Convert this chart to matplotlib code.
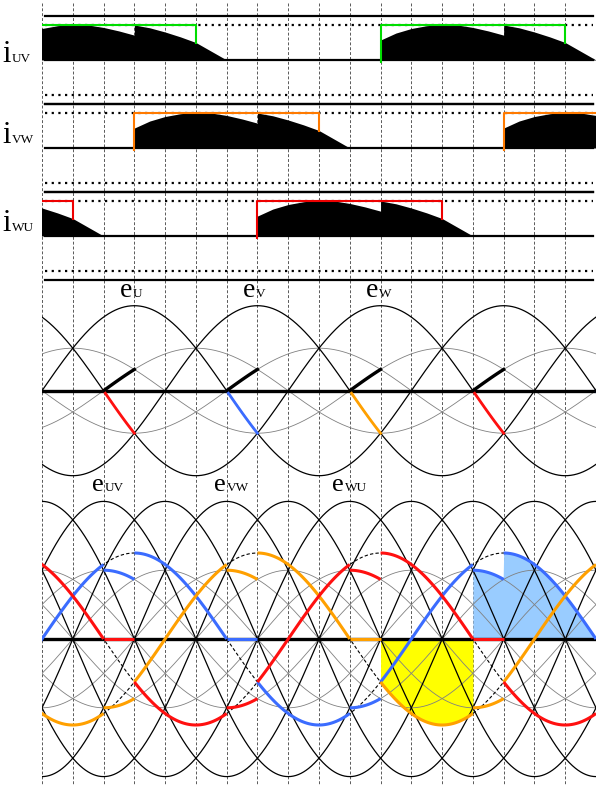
import numpy as np
import matplotlib.pyplot as plt

# ---------------- data ----------------
grid_angles = np.arange(0, 541, 30)      # dashed vertical grid (electrical degrees)
theta = np.linspace(0, 540, 1081)

phase_names = ['U', 'V', 'W']
phase_shift = [0, 120, 240]              # e_X = sin(theta - shift)
phase_colors = ['#3b6cff', '#ffa000', '#ff1010']

line_names = ['UV', 'VW', 'WU']
line_shift = [-30, 90, 210]              # e_UV = sin(theta + 30) ...

# load currents: start angle of each conduction block
current_names = ['UV', 'VW', 'WU']
current_starts = [[-30, 330], [90, 450], [-150, 210]]
current_colors = ['#00dd00', '#ff7a00', '#ee0000']
block_width = 180
# envelope of the black current pulse, angle measured from block start
env_psi = [0, 15, 30, 45, 60, 75, 90, 105, 120, 120, 135, 150, 165, 180, 195, 210]
env_val = [0.57, 0.77, 0.9, 0.98, 1.02, 1.0, 0.93, 0.83, 0.71, 1.0, 0.92, 0.8, 0.66, 0.5, 0.25, 0.0]

# amplitudes relative to the phase voltage
line_amp = 1.6
half_amp = 0.8

# pieces of the output voltage for one phase (angle from phase zero crossing)
seg_a = [-30, 60, 90, 180, 210, 300]
seg_b = [60, 90, 180, 210, 300, 330]
seg_kind = ['phase', 'bump+', 'phase', 'zero', 'phase', 'bump-']

# shaded areas: phase, from, to, colour
fill_phase = ['V', 'U']
fill_from = [330, 420]
fill_to = [420, 540]
fill_colors = ['#ffff00', '#99ccff']

# ---------------- helpers ----------------
W, H = 596, 787
X0 = 42
plt.rcParams['font.family'] = ['Liberation Serif', 'DejaVu Serif']

fig = plt.figure(figsize=(W / 100, H / 100), dpi=100)

bg = fig.add_axes([0, 0, 1, 1])
bg.set_xlim(-X0 * 540 / (W - X0), 540)
bg.set_ylim(H, 0)
bg.axis('off')
bg.vlines(grid_angles, 3, 785, colors='0.35', lw=0.7, linestyles=(0, (3, 2)), clip_on=False)


def band(top, bot, zero, scale):
    ax = fig.add_axes([X0 / W, 1 - bot / H, (W - X0) / W, (bot - top) / H])
    ax.set_xlim(0, 540)
    ax.set_ylim((zero - bot) / scale, (zero - top) / scale)
    ax.axis('off')
    ax.patch.set_alpha(0)
    return ax


def piece(kind, psi):
    r = np.radians(psi)
    if kind == 'phase':
        return np.sin(r)
    if kind == 'bump+':
        return half_amp * np.sin(r + np.radians(30))
    if kind == 'bump-':
        return -half_amp * np.sin(r + np.radians(150))
    return np.zeros_like(r)


def output(psi):
    p = (np.asarray(psi) + 30) % 360 - 30
    v = np.zeros_like(p, dtype=float)
    for a, b, k in zip(seg_a, seg_b, seg_kind):
        m = (p >= a) & (p <= b)
        v[m] = piece(k, p[m])
    return v


def label(ax, x, y, main, sub, size, dx):
    ax.text(x, y, main, fontsize=size, va='baseline', ha='left', clip_on=False)
    ax.text(x + dx, y, sub, fontsize=9.5, va='baseline', ha='left', clip_on=False)


# ---------------- current panels ----------------
bands = [(10, 104, 60), (104, 191, 148), (191, 280, 236)]
label_base = [62, 143, 231]
for name, starts, col, (top, bot, zero), lb in zip(current_names, current_starts,
                                                   current_colors, bands, label_base):
    ax = band(top, bot, zero, 35)
    lim = 44 / 35
    for yv, ls in [(lim, '-'), (-lim, '-'), (0, '-'), (1, (0, (1, 2))), (-1, (0, (1, 2)))]:
        ax.plot([3, 537], [yv, yv], color='k', lw=1.6, ls=ls, clip_on=False, zorder=1)
    end_val = env_val[env_psi.index(block_width)]
    for s in starts:
        ax.fill_between(s + np.array(env_psi), 0, env_val, color='k', lw=0, zorder=2)
        ax.plot([s, s, s + block_width, s + block_width], [-0.07, 1, 1, end_val],
                color=col, lw=1.5, zorder=3)
    label(ax, -38.5, (zero - lb) / 35, 'i', name, 22, 9)

# ---------------- phase voltage panel ----------------
ax = band(280, 480, 390.7, 85)
for s in phase_shift:
    ax.plot(theta, np.sin(np.radians(theta - s)), color='k', lw=0.9, zorder=2)
    ax.plot(theta, -0.5 * np.sin(np.radians(theta - s)), color='0.5', lw=0.6, zorder=1)
ax.plot([0, 540], [0, 0], color='k', lw=2.4, zorder=3)
for s, col in zip(phase_shift, phase_colors):
    for n in range(-1, 2):
        th = np.linspace(s + 180 + 360 * n, s + 210 + 360 * n, 31)
        ax.plot(th, np.sin(np.radians(th - s)), color=col, lw=2, zorder=4)
        ax.plot(th, -0.5 * np.sin(np.radians(th - s)), color='k', lw=2.4, zorder=4)
for nm, s in zip(phase_names, phase_shift):
    label(ax, s + 76, (390.7 - 297) / 85, 'e', nm, 20, 12.5)

# ---------------- line voltage panel ----------------
ax = band(480, 787, 639, 86)
for s in line_shift:
    v = np.sin(np.radians(theta - s))
    ax.plot(theta, line_amp * v, color='k', lw=0.9, zorder=2)
    ax.plot(theta, -line_amp * v, color='k', lw=0.9, zorder=2)
    ax.plot(theta, half_amp * v, color='0.5', lw=0.6, zorder=1)
    ax.plot(theta, -half_amp * v, color='0.5', lw=0.6, zorder=1)
for s in phase_shift:
    ax.plot(theta, np.sin(np.radians(theta - s)), color='k', lw=0.8,
            ls=(0, (3, 2)), zorder=2)
for ph, a, b, col in zip(fill_phase, fill_from, fill_to, fill_colors):
    s = phase_shift[phase_names.index(ph)]
    th = np.linspace(a, b, 241)
    ax.fill_between(th, 0, output(th - s), color=col, lw=0, zorder=0)
ax.plot([0, 540], [0, 0], color='k', lw=2.4, zorder=3)
for s, col in zip(phase_shift, phase_colors):
    for n in range(-1, 2):
        for a, b, k in zip(seg_a, seg_b, seg_kind):
            psi = np.linspace(a, b, 61)
            ax.plot(s + 360 * n + psi, piece(k, psi), color=col, lw=2.2,
                    solid_capstyle='butt', zorder=5)
for nm, x in zip(line_names, [49, 168, 283]):
    label(ax, x, (639 - 491) / 86, 'e', nm, 19, 12)

fig.savefig('out.png', dpi=100)
